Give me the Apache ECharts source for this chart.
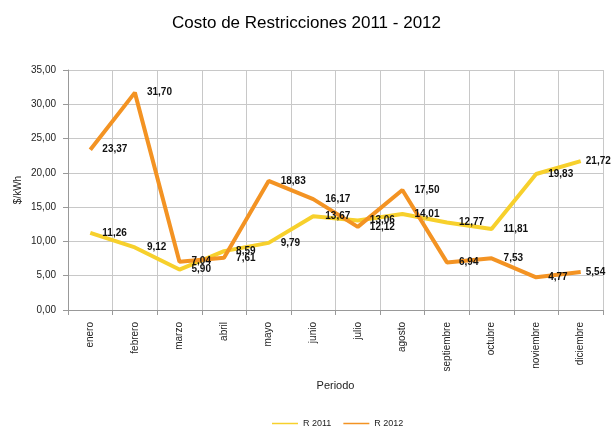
<!DOCTYPE html>
<html>
<head>
<meta charset="utf-8">
<script src="https://cdn.jsdelivr.net/npm/echarts@6/dist/echarts.min.js"></script>
<style>
  html, body { margin: 0; padding: 0; background: #fff; }
  #chart { width: 613px; height: 426px; }
</style>
</head>
<body>
<div id="chart"></div>
<script>
// Monthly restriction costs ($/kWh)
const months = ['enero', 'febrero', 'marzo', 'abril', 'mayo', 'junio', 'julio', 'agosto', 'septiembre', 'octubre', 'noviembre', 'diciembre'];
const r2011 = [11.26, 9.12, 5.90, 8.59, 9.79, 13.67, 13.06, 14.01, 12.77, 11.81, 19.83, 21.72];
const r2012 = [23.37, 31.70, 7.04, 7.61, 18.83, 16.17, 12.12, 17.50, 6.94, 7.53, 4.77, 5.54];
const seriesNames = ['R 2011', 'R 2012'];

const fmt = v => v.toFixed(2).replace('.', ',');
const font = 'Arial, "Liberation Sans", sans-serif';

const chart = echarts.init(document.getElementById('chart'));

// The last label sits closer to its point so it stays inside the canvas
function withLabelOffsets(values) {
  return values.map((v, i) => i === values.length - 1
    ? { value: v, label: { distance: 5 } }
    : v);
}

function lineSeries(name, data, color) {
  return {
    name: name,
    type: 'line',
    data: withLabelOffsets(data),
    symbol: 'circle',
    symbolSize: 0.1,
    showSymbol: true,
    lineStyle: { color: color, width: 4 },
    itemStyle: { color: color },
    label: {
      show: true,
      position: 'right',
      distance: 12,
      color: '#111',
      fontFamily: font,
      fontWeight: 'bold',
      fontSize: 10,
      formatter: p => fmt(p.value)
    },
    labelLayout: { hideOverlap: false },
    z: 3
  };
}

chart.setOption({
  animation: false,
  textStyle: { fontFamily: font },
  title: {
    text: 'Costo de Restricciones 2011 - 2012',
    left: 'center',
    top: 10,
    textStyle: { fontFamily: font, fontSize: 17, fontWeight: 'normal', color: '#000' }
  },
  legend: {
    top: 414,
    left: 267,
    data: seriesNames,
    icon: 'rect',
    itemWidth: 26,
    itemHeight: 1.5,
    itemGap: 12,
    textStyle: { fontFamily: font, fontSize: 9, color: '#222' }
  },
  grid: { left: 68, right: 10, top: 70, bottom: 116 },
  xAxis: {
    type: 'category',
    data: months,
    boundaryGap: true,
    name: 'Periodo',
    nameLocation: 'middle',
    nameGap: 70,
    nameTextStyle: { fontFamily: font, fontSize: 11, color: '#222' },
    axisLine: { lineStyle: { color: '#999' } },
    axisTick: { show: true, length: 5, lineStyle: { color: '#999' } },
    splitLine: { show: true, lineStyle: { color: '#c8c8c8', width: 1 } },
    axisLabel: { rotate: 90, fontSize: 10, color: '#222', margin: 12, interval: 0 }
  },
  yAxis: {
    type: 'value',
    min: 0,
    max: 35,
    interval: 5,
    name: '$/kWh',
    nameLocation: 'middle',
    nameGap: 45,
    nameMoveOverlap: false,
    nameTextStyle: { fontFamily: font, fontSize: 10, color: '#222' },
    axisLine: { show: true, lineStyle: { color: '#999' } },
    axisTick: { show: true, length: 5, lineStyle: { color: '#999' } },
    splitLine: { show: true, lineStyle: { color: '#c8c8c8', width: 1 } },
    axisLabel: { fontSize: 10, color: '#222', margin: 12, formatter: v => fmt(v) }
  },
  series: [
    lineSeries(seriesNames[0], r2011, '#F7D02C'),
    lineSeries(seriesNames[1], r2012, '#F39323')
  ]
});
</script>
</body>
</html>
